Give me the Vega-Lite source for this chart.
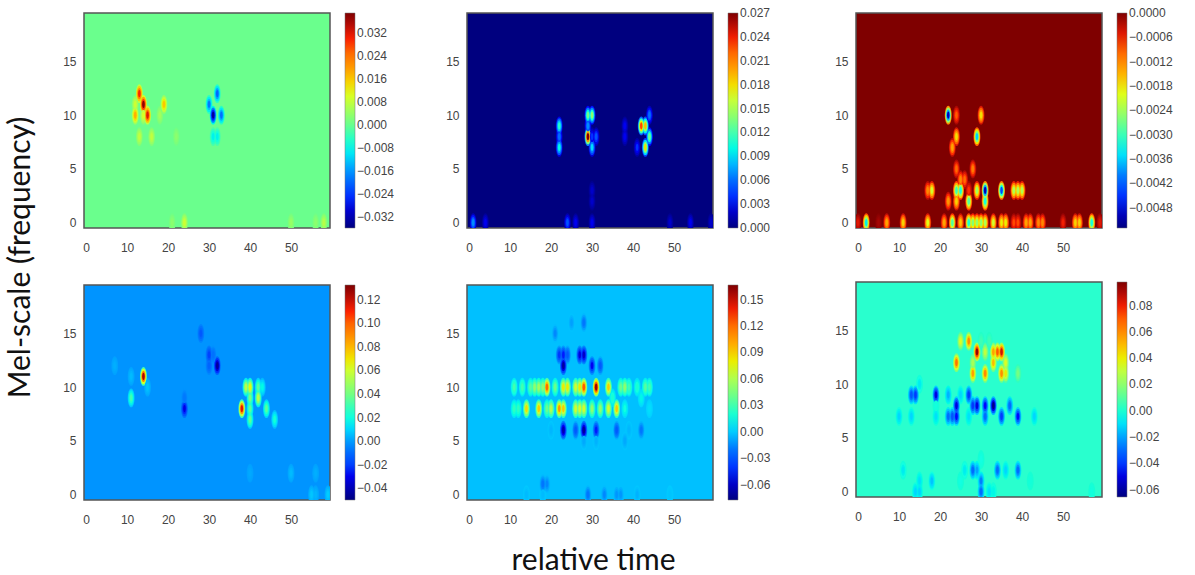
{"$schema":"https://vega.github.io/schema/vega-lite/v6.json","background":"white","padding":{"left":4,"top":12,"right":0,"bottom":0},"spacing":48,"config":{"axis":{"grid":false,"domain":false,"ticks":false,"labelColor":"#444444","labelFont":"Liberation Sans","labelFontSize":12,"titleFont":"Lato","titleFontSize":30,"titleFontWeight":"normal","titleColor":"#111111"},"view":{"stroke":"#555555","strokeWidth":1.5},"point":{"shape":"M0,-1C0.2,-1 0.36,-0.55 0.36,0C0.36,0.55 0.2,1 0,1C-0.2,1 -0.36,0.55 -0.36,0C-0.36,-0.55 -0.2,-1 0,-1Z","filled":true,"opacity":1,"strokeWidth":0},"legend":{"orient":"right","offset":15,"gradientLength":215,"gradientThickness":10,"gradientStrokeColor":"#777777","gradientStrokeWidth":0.5,"labelColor":"#444444","labelFont":"Liberation Sans","labelFontSize":12,"labelOffset":9,"labelOverlap":false,"title":null},"range":{"ramp":["#00007f","#0000ff","#007fff","#14ffe2","#7bff7b","#e2ff14","#ff9700","#ff2200","#7f0000"]}},"datasets":{"p1":[{"x":22,"y":8,"v":0.003},{"x":21,"y":0,"v":0.003},{"x":56,"y":0,"v":0.003},{"x":50,"y":0,"v":0.004},{"x":18,"y":10,"v":0.005},{"x":58,"y":0,"v":0.007},{"x":13,"y":8,"v":0.008},{"x":16,"y":8,"v":0.008},{"x":24,"y":0,"v":0.009},{"x":12,"y":11,"v":0.009},{"x":14,"y":10,"v":0.01},{"x":31,"y":8,"v":-0.009},{"x":32,"y":8,"v":-0.009},{"x":19,"y":11,"v":0.016},{"x":12,"y":10,"v":0.018},{"x":30,"y":11,"v":-0.018},{"x":33,"y":10,"v":-0.019},{"x":32,"y":12,"v":-0.02},{"x":13,"y":12,"v":0.03},{"x":15,"y":10,"v":0.032},{"x":31,"y":10,"v":-0.034},{"x":14,"y":11,"v":0.038}],"p2":[{"x":49,"y":0,"v":0.002},{"x":59,"y":0,"v":0.002},{"x":30,"y":3,"v":0.002},{"x":30,"y":2,"v":0.002},{"x":4,"y":0,"v":0.003},{"x":26,"y":0,"v":0.003},{"x":30,"y":0,"v":0.003},{"x":54,"y":0,"v":0.003},{"x":38,"y":9,"v":0.003},{"x":38,"y":8,"v":0.003},{"x":41,"y":7,"v":0.004},{"x":30,"y":8,"v":0.004},{"x":24,"y":0,"v":0.005},{"x":31,"y":8,"v":0.005},{"x":22,"y":8,"v":0.006},{"x":44,"y":10,"v":0.006},{"x":1,"y":0,"v":0.007},{"x":29,"y":9,"v":0.007},{"x":30,"y":7,"v":0.009},{"x":22,"y":7,"v":0.01},{"x":22,"y":9,"v":0.011},{"x":29,"y":10,"v":0.013},{"x":30,"y":10,"v":0.014},{"x":44,"y":8,"v":0.013},{"x":43,"y":7,"v":0.018},{"x":43,"y":9,"v":0.019},{"x":42,"y":9,"v":0.023},{"x":29,"y":8,"v":0.027}],"p3":[{"x":5,"y":0,"v":-0.0002},{"x":0,"y":0,"v":-0.0005},{"x":59,"y":0,"v":-0.0005},{"x":50,"y":0,"v":-0.0006},{"x":27,"y":3,"v":-0.0007},{"x":38,"y":0,"v":-0.0008},{"x":39,"y":0,"v":-0.0008},{"x":24,"y":10,"v":-0.0009},{"x":24,"y":5,"v":-0.001},{"x":26,"y":4,"v":-0.001},{"x":28,"y":5,"v":-0.0011},{"x":25,"y":4,"v":-0.0012},{"x":17,"y":3,"v":-0.0012},{"x":44,"y":0,"v":-0.0012},{"x":45,"y":0,"v":-0.0012},{"x":22,"y":2,"v":-0.0013},{"x":7,"y":0,"v":-0.0014},{"x":21,"y":0,"v":-0.0014},{"x":23,"y":7,"v":-0.0014},{"x":41,"y":0,"v":-0.0014},{"x":42,"y":0,"v":-0.0014},{"x":25,"y":0,"v":-0.0016},{"x":11,"y":0,"v":-0.0017},{"x":24,"y":2,"v":-0.0017},{"x":53,"y":0,"v":-0.0017},{"x":54,"y":0,"v":-0.0017},{"x":30,"y":10,"v":-0.0018},{"x":24,"y":8,"v":-0.0018},{"x":35,"y":0,"v":-0.0019},{"x":36,"y":0,"v":-0.0019},{"x":17,"y":0,"v":-0.002},{"x":18,"y":3,"v":-0.0021},{"x":33,"y":0,"v":-0.0021},{"x":38,"y":3,"v":-0.0023},{"x":39,"y":3,"v":-0.0023},{"x":40,"y":3,"v":-0.0023},{"x":31,"y":0,"v":-0.0023},{"x":29,"y":3,"v":-0.0024},{"x":29,"y":0,"v":-0.0025},{"x":30,"y":0,"v":-0.0025},{"x":28,"y":0,"v":-0.0026},{"x":23,"y":0,"v":-0.0029},{"x":27,"y":2,"v":-0.0029},{"x":24,"y":3,"v":-0.003},{"x":27,"y":0,"v":-0.0032},{"x":25,"y":3,"v":-0.0033},{"x":31,"y":2,"v":-0.0033},{"x":57,"y":0,"v":-0.0033},{"x":2,"y":0,"v":-0.0034},{"x":29,"y":8,"v":-0.0036},{"x":35,"y":3,"v":-0.0044},{"x":22,"y":10,"v":-0.005},{"x":31,"y":3,"v":-0.005}],"p4":[{"x":40,"y":2,"v":0.002},{"x":7,"y":12,"v":0.003},{"x":56,"y":2,"v":0.003},{"x":11,"y":11,"v":0.005},{"x":56,"y":0,"v":0.004},{"x":15,"y":10,"v":0.006},{"x":50,"y":2,"v":0.005},{"x":24,"y":9,"v":-0.006},{"x":31,"y":13,"v":-0.008},{"x":55,"y":0,"v":0.007},{"x":30,"y":12,"v":-0.012},{"x":59,"y":0,"v":0.008},{"x":28,"y":15,"v":-0.015},{"x":43,"y":10,"v":0.018},{"x":46,"y":7,"v":0.022},{"x":30,"y":13,"v":-0.02},{"x":11,"y":9,"v":0.03},{"x":24,"y":8,"v":-0.032},{"x":40,"y":7,"v":0.035},{"x":40,"y":8,"v":0.035},{"x":44,"y":8,"v":0.035},{"x":42,"y":10,"v":0.035},{"x":40,"y":9,"v":0.04},{"x":39,"y":10,"v":0.055},{"x":42,"y":9,"v":0.055},{"x":40,"y":10,"v":0.065},{"x":32,"y":12,"v":-0.045},{"x":38,"y":8,"v":0.115},{"x":14,"y":11,"v":0.125}],"p5":[{"x":49,"y":0,"v":-0.002},{"x":14,"y":0,"v":-0.004},{"x":18,"y":0,"v":-0.004},{"x":44,"y":8,"v":0.005},{"x":20,"y":6,"v":-0.005},{"x":39,"y":6,"v":-0.005},{"x":31,"y":5,"v":-0.006},{"x":41,"y":0,"v":-0.006},{"x":38,"y":5,"v":-0.008},{"x":28,"y":5,"v":-0.008},{"x":25,"y":16,"v":-0.01},{"x":36,"y":0,"v":-0.012},{"x":37,"y":0,"v":-0.012},{"x":42,"y":9,"v":0.012},{"x":21,"y":15,"v":-0.015},{"x":19,"y":1,"v":-0.015},{"x":33,"y":0,"v":-0.015},{"x":38,"y":8,"v":0.015},{"x":18,"y":1,"v":-0.02},{"x":28,"y":16,"v":-0.02},{"x":29,"y":0,"v":-0.02},{"x":42,"y":6,"v":-0.02},{"x":35,"y":9,"v":0.02},{"x":41,"y":10,"v":0.02},{"x":11,"y":8,"v":0.025},{"x":12,"y":8,"v":0.025},{"x":11,"y":10,"v":0.03},{"x":13,"y":10,"v":0.03},{"x":39,"y":10,"v":0.03},{"x":44,"y":10,"v":0.03},{"x":24,"y":13,"v":-0.03},{"x":26,"y":6,"v":-0.03},{"x":32,"y":12,"v":-0.03},{"x":36,"y":6,"v":-0.03},{"x":15,"y":10,"v":0.035},{"x":43,"y":10,"v":0.035},{"x":37,"y":10,"v":0.04},{"x":21,"y":10,"v":0.04},{"x":19,"y":8,"v":0.04},{"x":22,"y":13,"v":-0.04},{"x":16,"y":10,"v":0.05},{"x":18,"y":10,"v":0.05},{"x":38,"y":10,"v":0.05},{"x":30,"y":8,"v":0.05},{"x":32,"y":8,"v":0.05},{"x":23,"y":13,"v":-0.045},{"x":31,"y":6,"v":-0.045},{"x":17,"y":10,"v":0.055},{"x":20,"y":8,"v":0.06},{"x":27,"y":13,"v":-0.055},{"x":30,"y":12,"v":-0.05},{"x":28,"y":13,"v":-0.06},{"x":23,"y":6,"v":-0.065},{"x":26,"y":10,"v":0.07},{"x":26,"y":8,"v":0.07},{"x":27,"y":8,"v":0.07},{"x":28,"y":8,"v":0.07},{"x":34,"y":8,"v":0.07},{"x":23,"y":12,"v":-0.07},{"x":28,"y":6,"v":-0.07},{"x":23,"y":10,"v":0.08},{"x":24,"y":10,"v":0.08},{"x":27,"y":10,"v":0.08},{"x":14,"y":8,"v":0.085},{"x":17,"y":8,"v":0.09},{"x":23,"y":8,"v":0.09},{"x":34,"y":10,"v":0.09},{"x":36,"y":8,"v":0.09},{"x":22,"y":8,"v":0.105},{"x":19,"y":10,"v":0.12},{"x":28,"y":10,"v":0.125},{"x":31,"y":10,"v":0.16}],"p6":[{"x":42,"y":1,"v":-0.002},{"x":57,"y":0,"v":-0.003},{"x":19,"y":8,"v":-0.003},{"x":25,"y":1,"v":-0.004},{"x":30,"y":3,"v":-0.004},{"x":33,"y":0,"v":-0.006},{"x":30,"y":14,"v":0.006},{"x":32,"y":14,"v":0.006},{"x":15,"y":10,"v":-0.008},{"x":11,"y":2,"v":-0.008},{"x":26,"y":2,"v":-0.008},{"x":15,"y":1,"v":-0.01},{"x":19,"y":7,"v":-0.01},{"x":27,"y":7,"v":-0.01},{"x":32,"y":0,"v":-0.01},{"x":10,"y":7,"v":-0.012},{"x":13,"y":7,"v":-0.012},{"x":43,"y":7,"v":-0.012},{"x":25,"y":9,"v":-0.012},{"x":36,"y":2,"v":-0.012},{"x":14,"y":0,"v":-0.012},{"x":15,"y":0,"v":-0.012},{"x":18,"y":1,"v":-0.015},{"x":39,"y":11,"v":0.015},{"x":22,"y":9,"v":-0.018},{"x":29,"y":2,"v":-0.02},{"x":28,"y":12,"v":0.025},{"x":30,"y":1,"v":-0.025},{"x":22,"y":7,"v":-0.03},{"x":28,"y":2,"v":-0.03},{"x":31,"y":7,"v":-0.03},{"x":34,"y":2,"v":-0.03},{"x":37,"y":8,"v":-0.03},{"x":39,"y":2,"v":-0.03},{"x":30,"y":0,"v":-0.03},{"x":31,"y":13,"v":0.03},{"x":13,"y":9,"v":-0.035},{"x":23,"y":7,"v":-0.035},{"x":25,"y":14,"v":0.035},{"x":36,"y":12,"v":0.035},{"x":14,"y":9,"v":-0.04},{"x":27,"y":9,"v":-0.04},{"x":28,"y":8,"v":-0.04},{"x":35,"y":7,"v":-0.04},{"x":36,"y":11,"v":0.04},{"x":31,"y":8,"v":-0.045},{"x":24,"y":7,"v":-0.045},{"x":39,"y":7,"v":-0.045},{"x":19,"y":9,"v":-0.05},{"x":24,"y":8,"v":-0.05},{"x":29,"y":8,"v":-0.05},{"x":33,"y":12,"v":0.05},{"x":28,"y":11,"v":0.055},{"x":33,"y":13,"v":0.055},{"x":27,"y":14,"v":0.06},{"x":31,"y":11,"v":0.06},{"x":35,"y":11,"v":0.06},{"x":33,"y":8,"v":-0.065},{"x":24,"y":12,"v":0.065},{"x":34,"y":13,"v":0.07},{"x":35,"y":13,"v":0.085},{"x":29,"y":13,"v":0.095}]},"hconcat":[{"spacing":57,"bounds":"flush","vconcat":[{"width":246,"height":215,"view":{"fill":"#6aff8d"},"data":{"name":"p1"},"encoding":{"x":{"field":"x","type":"quantitative","title":null,"scale":{"domain":[-0.5,59.5],"nice":false,"zero":false},"axis":{"values":[0,10,20,30,40,50],"labelPadding":14,"labelAngle":0}},"y":{"field":"y","type":"quantitative","title":null,"scale":{"domain":[-0.5,19.5],"nice":false,"zero":false},"axis":{"values":[0,5,10,15],"labelPadding":8}}},"layer":[{"mark":{"type":"point","size":360,"clip":true},"encoding":{"color":{"field":"v","type":"quantitative","legend":null,"scale":{"domain":[-0.144,-0.1065,-0.069,-0.0315,0.006,0.0435,0.081,0.1185,0.156]}}}},{"mark":{"type":"point","size":240,"clip":true},"encoding":{"color":{"field":"v","type":"quantitative","legend":null,"scale":{"domain":[-0.072,-0.05325,-0.0345,-0.01575,0.003,0.02175,0.0405,0.05925,0.078]}}}},{"mark":{"type":"point","size":130,"clip":true},"encoding":{"color":{"field":"v","type":"quantitative","legend":null,"scale":{"domain":[-0.048,-0.0355,-0.023,-0.0105,0.002,0.0145,0.027,0.0395,0.052]}}}},{"mark":{"type":"point","size":50,"clip":true},"encoding":{"color":{"field":"v","type":"quantitative","legend":{"values":[-0.032,-0.024,-0.016,-0.008,0,0.008,0.016,0.024,0.032],"format":".3f","encode":{"labels":{"update":{"baseline":{"value":"middle"}}}}},"scale":{"domain":[-0.036,-0.026625,-0.01725,-0.007875,0.0015,0.010875,0.02025,0.029625,0.039]}}}}],"resolve":{"scale":{"color":"independent"}}},{"width":246,"height":215,"view":{"fill":"#0094ff"},"data":{"name":"p4"},"encoding":{"x":{"field":"x","type":"quantitative","title":null,"scale":{"domain":[-0.5,59.5],"nice":false,"zero":false},"axis":{"values":[0,10,20,30,40,50],"labelPadding":14,"labelAngle":0}},"y":{"field":"y","type":"quantitative","title":"Mel-scale (frequency)","scale":{"domain":[-0.5,19.5],"nice":false,"zero":false},"axis":{"values":[0,5,10,15],"labelPadding":8,"titleX":-64,"titleY":-28,"titleBaseline":"middle","titleAnchor":"middle"}}},"layer":[{"mark":{"type":"point","size":360,"clip":true},"encoding":{"color":{"field":"v","type":"quantitative","legend":null,"scale":{"domain":[-0.2,-0.1087,-0.0174,0.0739,0.1652,0.2565,0.3478,0.4391,0.5304]}}}},{"mark":{"type":"point","size":240,"clip":true},"encoding":{"color":{"field":"v","type":"quantitative","legend":null,"scale":{"domain":[-0.1,-0.05435,-0.0087,0.03695,0.0826,0.12825,0.1739,0.21955,0.2652]}}}},{"mark":{"type":"point","size":130,"clip":true},"encoding":{"color":{"field":"v","type":"quantitative","legend":null,"scale":{"domain":[-0.0667,-0.03623,-0.0058,0.02463,0.05507,0.0855,0.11593,0.14637,0.1768]}}}},{"mark":{"type":"point","size":50,"clip":true},"encoding":{"color":{"field":"v","type":"quantitative","legend":{"values":[-0.04,-0.02,0,0.02,0.04,0.06,0.08,0.1,0.12],"format":".2f","encode":{"labels":{"update":{"baseline":{"value":"middle"}}}}},"scale":{"domain":[-0.05,-0.027175,-0.00435,0.018475,0.0413,0.064125,0.08695,0.109775,0.1326]}}}}],"resolve":{"scale":{"color":"independent"}}}]},{"spacing":57,"bounds":"flush","vconcat":[{"width":246,"height":215,"view":{"fill":"#00007f"},"data":{"name":"p2"},"encoding":{"x":{"field":"x","type":"quantitative","title":null,"scale":{"domain":[-0.5,59.5],"nice":false,"zero":false},"axis":{"values":[0,10,20,30,40,50],"labelPadding":14,"labelAngle":0}},"y":{"field":"y","type":"quantitative","title":null,"scale":{"domain":[-0.5,19.5],"nice":false,"zero":false},"axis":{"values":[0,5,10,15],"labelPadding":8}}},"layer":[{"mark":{"type":"point","size":360,"clip":true},"encoding":{"color":{"field":"v","type":"quantitative","legend":null,"scale":{"domain":[0,0.0135,0.027,0.0405,0.054,0.0675,0.081,0.0945,0.108]}}}},{"mark":{"type":"point","size":240,"clip":true},"encoding":{"color":{"field":"v","type":"quantitative","legend":null,"scale":{"domain":[0,0.00675,0.0135,0.02025,0.027,0.03375,0.0405,0.04725,0.054]}}}},{"mark":{"type":"point","size":130,"clip":true},"encoding":{"color":{"field":"v","type":"quantitative","legend":null,"scale":{"domain":[0,0.0045,0.009,0.0135,0.018,0.0225,0.027,0.0315,0.036]}}}},{"mark":{"type":"point","size":50,"clip":true},"encoding":{"color":{"field":"v","type":"quantitative","legend":{"values":[0,0.003,0.006,0.009,0.012,0.015,0.018,0.021,0.024,0.027],"format":".3f","encode":{"labels":{"update":{"baseline":{"value":"middle"}}}}},"scale":{"domain":[0,0.003375,0.00675,0.010125,0.0135,0.016875,0.02025,0.023625,0.027]}}}}],"resolve":{"scale":{"color":"independent"}}},{"width":246,"height":215,"view":{"fill":"#00c0ff"},"data":{"name":"p5"},"encoding":{"x":{"field":"x","type":"quantitative","title":"relative time","scale":{"domain":[-0.5,59.5],"nice":false,"zero":false},"axis":{"values":[0,10,20,30,40,50],"labelPadding":14,"labelAngle":0,"titleX":126,"titleY":60,"titleBaseline":"middle"}},"y":{"field":"y","type":"quantitative","title":null,"scale":{"domain":[-0.5,19.5],"nice":false,"zero":false},"axis":{"values":[0,5,10,15],"labelPadding":8}}},"layer":[{"mark":{"type":"point","size":360,"clip":true},"encoding":{"color":{"field":"v","type":"quantitative","legend":null,"scale":{"domain":[-0.31,-0.188,-0.066,0.056,0.178,0.3,0.422,0.544,0.666]}}}},{"mark":{"type":"point","size":240,"clip":true},"encoding":{"color":{"field":"v","type":"quantitative","legend":null,"scale":{"domain":[-0.155,-0.094,-0.033,0.028,0.089,0.15,0.211,0.272,0.333]}}}},{"mark":{"type":"point","size":130,"clip":true},"encoding":{"color":{"field":"v","type":"quantitative","legend":null,"scale":{"domain":[-0.10333,-0.06267,-0.022,0.01867,0.05933,0.1,0.14067,0.18133,0.222]}}}},{"mark":{"type":"point","size":50,"clip":true},"encoding":{"color":{"field":"v","type":"quantitative","legend":{"values":[-0.06,-0.03,0,0.03,0.06,0.09,0.12,0.15],"format":".2f","encode":{"labels":{"update":{"baseline":{"value":"middle"}}}}},"scale":{"domain":[-0.0775,-0.047,-0.0165,0.014,0.0445,0.075,0.1055,0.136,0.1665]}}}}],"resolve":{"scale":{"color":"independent"}}}]},{"spacing":54,"bounds":"flush","vconcat":[{"width":246,"height":215,"view":{"fill":"#7f0000"},"data":{"name":"p3"},"encoding":{"x":{"field":"x","type":"quantitative","title":null,"scale":{"domain":[-0.5,59.5],"nice":false,"zero":false},"axis":{"values":[0,10,20,30,40,50],"labelPadding":14,"labelAngle":0}},"y":{"field":"y","type":"quantitative","title":null,"scale":{"domain":[-0.5,19.5],"nice":false,"zero":false},"axis":{"values":[0,5,10,15],"labelPadding":8,"minExtent":35}}},"layer":[{"mark":{"type":"point","size":360,"clip":true},"encoding":{"color":{"field":"v","type":"quantitative","legend":null,"scale":{"domain":[-0.0212,-0.01855,-0.0159,-0.01325,-0.0106,-0.00795,-0.0053,-0.00265,0]}}}},{"mark":{"type":"point","size":240,"clip":true},"encoding":{"color":{"field":"v","type":"quantitative","legend":null,"scale":{"domain":[-0.0106,-0.009275,-0.00795,-0.006625,-0.0053,-0.003975,-0.00265,-0.001325,0]}}}},{"mark":{"type":"point","size":130,"clip":true},"encoding":{"color":{"field":"v","type":"quantitative","legend":null,"scale":{"domain":[-0.00707,-0.00618,-0.0053,-0.00442,-0.00353,-0.00265,-0.00177,-0.00088,0]}}}},{"mark":{"type":"point","size":50,"clip":true},"encoding":{"color":{"field":"v","type":"quantitative","legend":{"values":[-0.0048,-0.0042,-0.0036,-0.003,-0.0024,-0.0018,-0.0012,-0.0006,0],"format":".4f","encode":{"labels":{"update":{"baseline":{"value":"middle"}}}}},"scale":{"domain":[-0.0053,-0.0046375,-0.003975,-0.0033125,-0.00265,-0.0019875,-0.001325,-0.0006625,0]}}}}],"resolve":{"scale":{"color":"independent"}}},{"width":246,"height":215,"view":{"fill":"#29ffce"},"data":{"name":"p6"},"encoding":{"x":{"field":"x","type":"quantitative","title":null,"scale":{"domain":[-0.5,59.5],"nice":false,"zero":false},"axis":{"values":[0,10,20,30,40,50],"labelPadding":14,"labelAngle":0}},"y":{"field":"y","type":"quantitative","title":null,"scale":{"domain":[-0.5,19.5],"nice":false,"zero":false},"axis":{"values":[0,5,10,15],"labelPadding":8,"minExtent":35}}},"layer":[{"mark":{"type":"point","size":360,"clip":true},"encoding":{"color":{"field":"v","type":"quantitative","legend":null,"scale":{"domain":[-0.2628,-0.1808,-0.0992,-0.0172,0.0648,0.1464,0.2284,0.31,0.392]}}}},{"mark":{"type":"point","size":240,"clip":true},"encoding":{"color":{"field":"v","type":"quantitative","legend":null,"scale":{"domain":[-0.1314,-0.0904,-0.0496,-0.0086,0.0324,0.0732,0.1142,0.155,0.196]}}}},{"mark":{"type":"point","size":130,"clip":true},"encoding":{"color":{"field":"v","type":"quantitative","legend":null,"scale":{"domain":[-0.0876,-0.06027,-0.03307,-0.00573,0.0216,0.0488,0.07613,0.10333,0.13067]}}}},{"mark":{"type":"point","size":50,"clip":true},"encoding":{"color":{"field":"v","type":"quantitative","legend":{"values":[-0.06,-0.04,-0.02,0,0.02,0.04,0.06,0.08],"format":".2f","encode":{"labels":{"update":{"baseline":{"value":"middle"}}}}},"scale":{"domain":[-0.0657,-0.0452,-0.0248,-0.0043,0.0162,0.0366,0.0571,0.0775,0.098]}}}}],"resolve":{"scale":{"color":"independent"}}}]}]}
